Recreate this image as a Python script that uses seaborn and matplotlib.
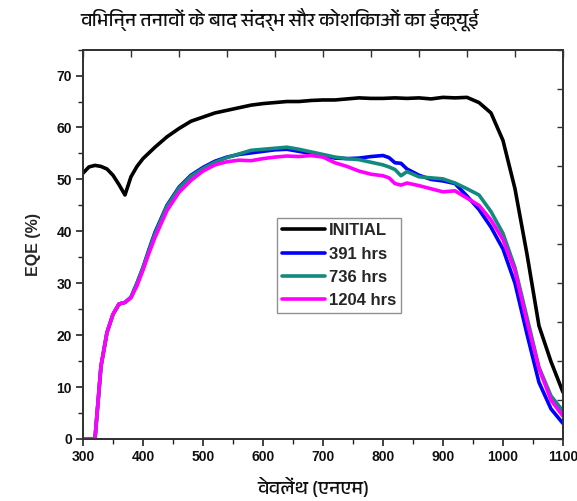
import matplotlib
matplotlib.use("Agg")
import matplotlib.pyplot as plt
from matplotlib import font_manager as fm
from matplotlib.ticker import MultipleLocator
import numpy as np
import pandas as pd
import seaborn as sns

# ---------------- data ----------------
wl_initial = [300, 310, 320, 330, 340, 350, 360, 370, 380, 390, 400, 420, 440, 460, 480,
              500, 520, 540, 560, 580, 600, 620, 640, 660, 680, 700, 720, 740, 760, 780,
              800, 820, 840, 860, 880, 900, 920, 940, 960, 980, 1000, 1020, 1040, 1060,
              1080, 1100]
eqe_initial = [51.2, 52.4, 52.7, 52.5, 52.0, 50.8, 49.0, 47.0, 50.5, 52.5, 54.0, 56.2, 58.2,
               59.8, 61.2, 62.0, 62.8, 63.3, 63.8, 64.3, 64.6, 64.8, 65.0, 65.0, 65.2, 65.3,
               65.3, 65.5, 65.7, 65.6, 65.6, 65.7, 65.6, 65.7, 65.5, 65.8, 65.7, 65.8, 64.8,
               62.8, 57.5, 48.2, 35.6, 21.8, 14.9, 9.0]

wl_aged = [300, 310, 320, 330, 340, 350, 360, 370, 380, 390, 400, 410, 420, 440, 460, 480,
           500, 520, 540, 560, 580, 600, 620, 640, 660, 680, 700, 720, 740, 760, 780, 800,
           810, 820, 830, 840, 860, 880, 900, 920, 940, 960, 980, 1000, 1020, 1040, 1060,
           1080, 1100]
eqe_391 = [0, 0, 0, 14.0, 20.5, 24.0, 26.0, 26.3, 27.3, 30.0, 33.0, 36.5, 39.8, 45.0, 48.5,
           50.8, 52.3, 53.5, 54.3, 54.8, 55.1, 55.4, 55.7, 55.8, 55.4, 55.0, 54.6, 54.1, 54.0,
           54.1, 54.4, 54.6, 54.2, 53.2, 53.1, 52.0, 50.8, 50.0, 49.7, 49.2, 46.8, 44.2, 40.8,
           36.6, 30.0, 20.2, 10.9, 5.8, 3.0]
eqe_736 = [0, 0, 0, 14.0, 20.5, 24.0, 26.0, 26.3, 27.3, 30.0, 33.0, 36.3, 39.5, 44.8, 48.3,
           50.6, 52.1, 53.3, 54.2, 54.9, 55.6, 55.8, 56.0, 56.2, 55.8, 55.3, 54.8, 54.3, 54.0,
           53.8, 53.3, 52.8, 52.4, 51.9, 50.7, 51.5, 50.5, 50.3, 50.1, 49.3, 48.2, 47.0, 43.8,
           39.6, 33.0, 23.4, 13.8, 8.3, 5.4]
eqe_1204 = [0, 0, 0, 14.0, 20.5, 24.0, 26.0, 26.3, 27.2, 29.5, 32.5, 35.8, 38.8, 44.0, 47.5,
            49.8, 51.6, 52.8, 53.4, 53.7, 53.6, 54.0, 54.3, 54.5, 54.4, 54.6, 54.3, 53.2, 52.5,
            51.6, 51.0, 50.7, 50.3, 49.2, 48.9, 49.3, 48.8, 48.2, 47.6, 47.8, 46.4, 45.0, 42.2,
            38.4, 32.4, 22.6, 13.6, 7.5, 4.4]

series_names = ["INITIAL", "391 hrs", "736 hrs", "1204 hrs"]
series_colors = ["#000000", "#0000ff", "#138a7e", "#ff00ff"]

title_text = "विभिन्न तनावों के बाद संदर्भ सौर कोशिकाओं का ईक्यूई"
xlabel_text = "वेवलेंथ (एनएम)"
ylabel_text = "EQE (%)"
xticks = [300, 400, 500, 600, 700, 800, 900, 1000, 1100]
yticks = [0, 10, 20, 30, 40, 50, 60, 70]

df = pd.concat([
    pd.DataFrame({"wl": wl_initial, "eqe": eqe_initial, "series": "INITIAL"}),
    pd.DataFrame({"wl": wl_aged, "eqe": eqe_391, "series": "391 hrs"}),
    pd.DataFrame({"wl": wl_aged, "eqe": eqe_736, "series": "736 hrs"}),
    pd.DataFrame({"wl": wl_aged, "eqe": eqe_1204, "series": "1204 hrs"}),
], ignore_index=True)

# ---------------- style ----------------
sns.set_theme(style="ticks")
names = {f.name for f in fm.fontManager.ttflist}
deva = [n for n in sorted(names) if "Devanagari" in n or n in ("Lohit Devanagari", "Mukta", "Hind")]
hindi_family = deva + ["Noto Sans", "DejaVu Sans"]
plt.rcParams["font.family"] = ["Liberation Sans", "DejaVu Sans"]

fig = plt.figure(figsize=(5.77, 5.01), dpi=100)
ax = fig.add_axes([0.1438, 0.1238, 0.8319, 0.7772])

sns.lineplot(data=df, x="wl", y="eqe", hue="series", hue_order=series_names,
             palette=series_colors, linewidth=2.6, ax=ax, sort=False, estimator=None)

ax.set_xlim(300, 1100)
ax.set_ylim(0, 75)
ax.set_xticks(xticks)
ax.set_yticks(yticks)
ax.xaxis.set_minor_locator(MultipleLocator(50))
ax.yaxis.set_minor_locator(MultipleLocator(5))
ax.tick_params(which="major", direction="out", length=5, width=1.2, colors="#222222",
               labelsize=10, pad=3)
ax.tick_params(which="minor", direction="out", length=3.5, width=1.0, colors="#222222")
for lab in ax.get_xticklabels() + ax.get_yticklabels():
    lab.set_fontweight("bold")
    lab.set_color("#111111")
for s in ax.spines.values():
    s.set_linewidth(1.3)
    s.set_color("#333333")
    s.set_visible(True)

# top & right inner ticks
axt = ax.twiny()
axt.set_xlim(300, 1100)
axt.set_xticks(np.arange(300, 1101, 80))
axt.tick_params(axis="x", direction="in", length=5, width=1.0, labeltop=False, colors="#333333")
axr = ax.twinx()
axr.set_ylim(0, 75)
axr.set_yticks(np.arange(0, 75.1, 7.5))
axr.tick_params(axis="y", direction="in", length=4, width=1.0, labelright=False, colors="#333333")
for a in (axt, axr):
    for s in a.spines.values():
        s.set_linewidth(1.3)
        s.set_color("#333333")

ax.set_xlabel("")
ax.set_ylabel(ylabel_text, fontsize=11.5, fontweight="bold", labelpad=11)
fig.text(0.543, 0.027, xlabel_text, ha="center", va="center", fontsize=14,
         family=hindi_family, color="#111111")
fig.text(0.485, 0.962, title_text, ha="center", va="center", fontsize=14,
         family=hindi_family, color="#111111")

handles, labels = ax.get_legend_handles_labels()
leg = ax.legend(handles, labels, loc="upper left", bbox_to_anchor=(0.404, 0.567),
                borderaxespad=0, frameon=True, fancybox=False, handlelength=2.6,
                handletextpad=0.2, labelspacing=0.5, borderpad=0.3,
                prop={"weight": "bold", "size": 12})
leg.get_frame().set_edgecolor("#777777")
leg.get_frame().set_linewidth(1.0)
for l in leg.get_lines():
    l.set_linewidth(2.6)
leg.set_zorder(10)
ax.set_zorder(2)
ax.patch.set_visible(False)

fig.savefig("out.png", dpi=100)
